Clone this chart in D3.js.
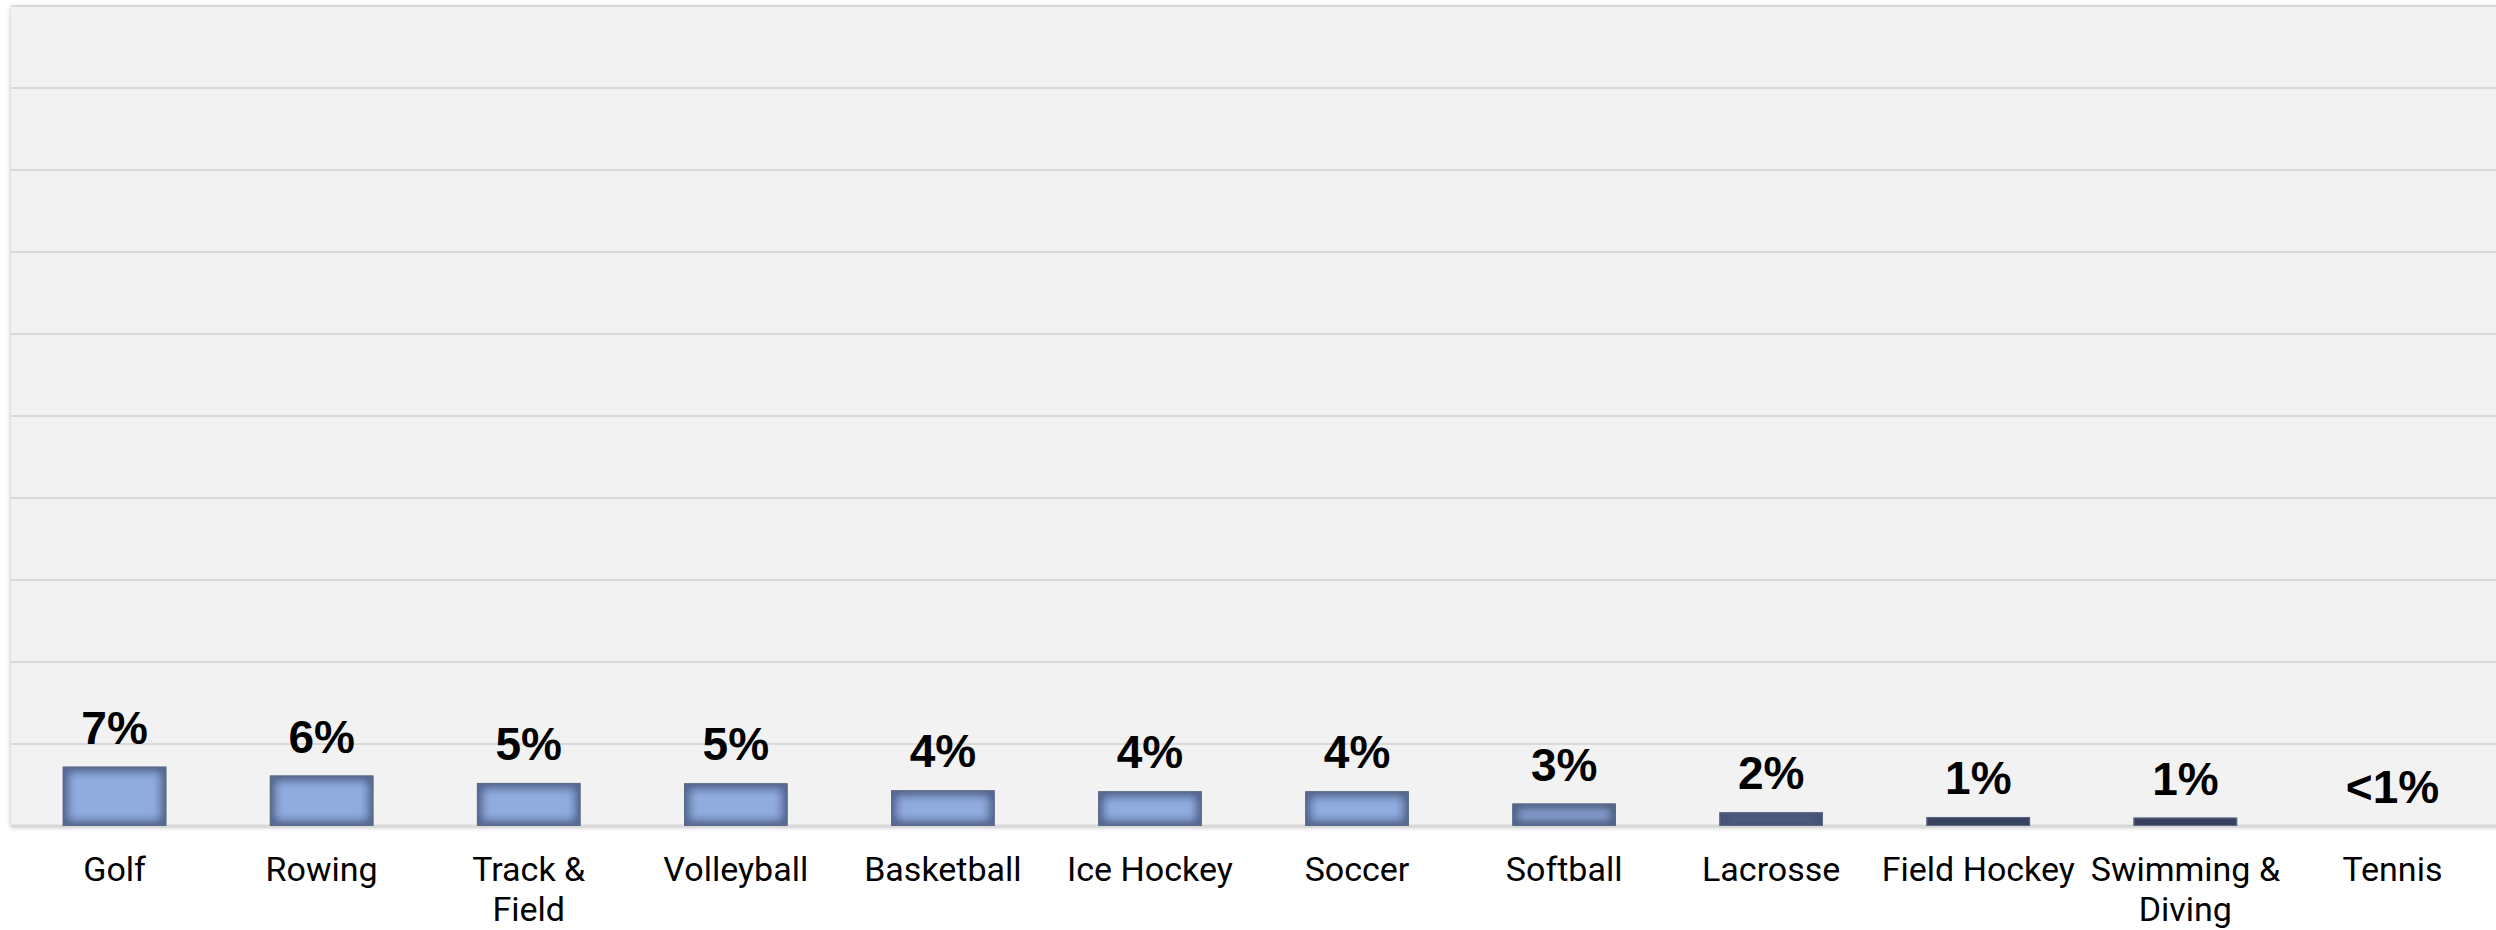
<!DOCTYPE html>
<html>
<head>
<meta charset="utf-8">
<script src="https://cdn.jsdelivr.net/npm/d3@7"></script>
<style>
  html, body { margin: 0; padding: 0; background: #ffffff; }
  svg { display: block; }
</style>
</head>
<body>
<svg id="chart" width="2496" height="930"></svg>
<script>
// ---- data ----
const categories = ["Golf", "Rowing", "Track & Field", "Volleyball", "Basketball", "Ice Hockey",
  "Soccer", "Softball", "Lacrosse", "Field Hockey", "Swimming & Diving", "Tennis"];
const values = [7.24, 6.15, 5.25, 5.2, 4.35, 4.23, 4.23, 2.73, 1.67, 1.1, 1.02, 0];
const valueLabels = ["7%", "6%", "5%", "5%", "4%", "4%", "4%", "3%", "2%", "1%", "1%", "<1%"];
const tickLabels = [["Golf"], ["Rowing"], ["Track &", "Field"], ["Volleyball"], ["Basketball"], ["Ice Hockey"],
  ["Soccer"], ["Softball"], ["Lacrosse"], ["Field Hockey"], ["Swimming &", "Diving"], ["Tennis"]];
const yTicks = [0, 10, 20, 30, 40, 50, 60, 70, 80, 90, 100];

// ---- layout ----
const W = 2496, H = 930;
const plotLeft = 11, plotRight = 2496, plotTop = 6, plotBottom = 826;

const svg = d3.select("#chart");
const defs = svg.append("defs");

// drop shadow for plot area
const ds = defs.append("filter").attr("id", "plotShadow")
  .attr("x", -0.05).attr("y", -0.05).attr("width", 1.1).attr("height", 1.1);
ds.append("feDropShadow").attr("dx", 0).attr("dy", 1).attr("stdDeviation", 2.5)
  .attr("flood-color", "#000").attr("flood-opacity", 0.28);

// blur for inner shadow strokes
defs.append("filter").attr("id", "edgeBlur")
  .attr("filterUnits", "userSpaceOnUse")
  .attr("x", 0).attr("y", 0).attr("width", W).attr("height", H)
  .append("feGaussianBlur").attr("stdDeviation", 4);

// scales
const x = d3.scaleBand().domain(categories).range([plotLeft, plotRight])
  .paddingInner(0.5).paddingOuter(0.25);
const y = d3.scaleLinear().domain([0, 100]).range([plotBottom, plotTop]);
const color = d3.scaleLinear().domain([1.0, 1.67, 2.73, 4.2])
  .range(["#55627f", "#6f80a5", "#8aa2cf", "#90acde"]).clamp(true);

// plot background
svg.append("rect")
  .attr("x", plotLeft).attr("y", plotTop)
  .attr("width", plotRight - plotLeft + 20).attr("height", plotBottom - plotTop)
  .attr("fill", "#f2f2f2")
  .attr("filter", "url(#plotShadow)");

// gridlines
svg.append("g").selectAll("line").data(yTicks).join("line")
  .attr("x1", plotLeft).attr("x2", plotRight)
  .attr("y1", d => y(d)).attr("y2", d => y(d))
  .attr("stroke", "#d9d9d9")
  .attr("stroke-width", d => d === 0 ? 3 : 2);

// bars
const rows = categories.map((c, i) => ({ c, v: values[i], lab: valueLabels[i], tl: tickLabels[i], i }));
const barRows = rows.filter(d => d.v > 0);

defs.selectAll("clipPath.bar").data(barRows).join("clipPath")
  .attr("class", "bar")
  .attr("id", d => "clip" + d.i)
  .append("rect")
  .attr("x", d => x(d.c))
  .attr("y", d => y(d.v))
  .attr("width", x.bandwidth())
  .attr("height", d => y(0) - y(d.v));

const bars = svg.append("g").selectAll("g").data(barRows).join("g");
bars.append("rect")
  .attr("x", d => x(d.c))
  .attr("y", d => y(d.v))
  .attr("width", x.bandwidth())
  .attr("height", d => y(0) - y(d.v))
  .attr("fill", d => color(d.v));
bars.append("g").attr("clip-path", d => `url(#clip${d.i})`)
  .append("rect")
  .attr("x", d => x(d.c))
  .attr("y", d => y(d.v))
  .attr("width", x.bandwidth())
  .attr("height", d => y(0) - y(d.v))
  .attr("fill", "none")
  .attr("stroke", "#1e2946")
  .attr("stroke-opacity", 0.6)
  .attr("stroke-width", 10)
  .attr("filter", "url(#edgeBlur)");
bars.append("rect")
  .attr("x", d => x(d.c) + 0.5)
  .attr("y", d => y(d.v) + 0.5)
  .attr("width", x.bandwidth() - 1)
  .attr("height", d => y(0) - y(d.v) - 1)
  .attr("fill", "none")
  .attr("stroke", "#5b6a86")
  .attr("stroke-width", 1);

// value labels
svg.append("g").selectAll("text").data(rows).join("text")
  .attr("x", d => x(d.c) + x.bandwidth() / 2)
  .attr("y", d => y(d.v) - 23)
  .attr("text-anchor", "middle")
  .attr("font-family", "'Liberation Sans', Arial, sans-serif")
  .attr("font-weight", "bold")
  .attr("font-size", 46)
  .attr("fill", "#000")
  .text(d => d.lab);

// category labels
const cat = svg.append("g").selectAll("text").data(rows).join("text")
  .attr("x", d => x(d.c) + x.bandwidth() / 2)
  .attr("y", 881)
  .attr("text-anchor", "middle")
  .attr("font-family", "Roboto, 'Noto Sans', sans-serif")
  .attr("font-size", 34)
  .attr("fill", "#000");
cat.selectAll("tspan").data(d => d.tl.map(t => ({ t, x: x(d.c) + x.bandwidth() / 2 }))).join("tspan")
  .attr("x", d => d.x)
  .attr("dy", (d, i) => i === 0 ? 0 : 40)
  .text(d => d.t);
</script>
</body>
</html>
